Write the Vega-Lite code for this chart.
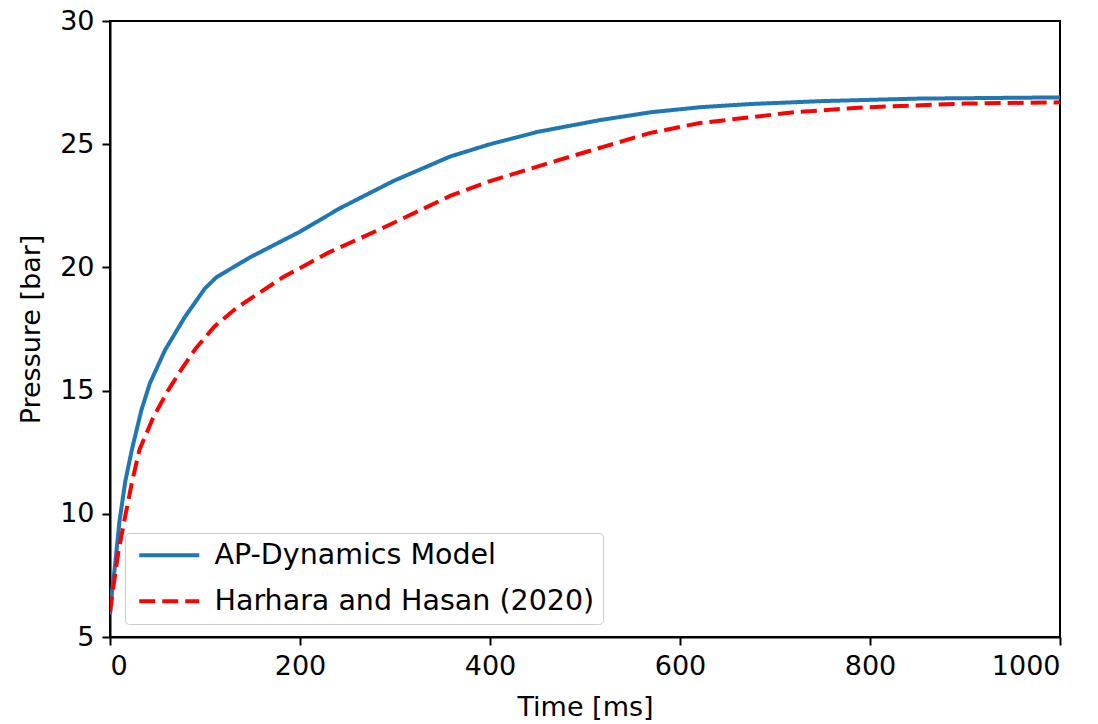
{
  "$schema": "https://vega.github.io/schema/vega-lite/v6.json",
  "autosize": "none",
  "width": 950,
  "height": 616,
  "padding": {"left": 110, "top": 21, "right": 38, "bottom": 87},
  "background": "white",
  "config": {
    "view": {"stroke": "black", "strokeWidth": 2},
    "font": "DejaVu Sans",
    "axis": {
      "domainColor": "black", "domainWidth": 2, "tickColor": "black", "tickWidth": 2, "tickSize": 8,
      "labelFont": "DejaVu Sans", "labelFontSize": 27, "labelColor": "black", "labelPadding": 8,
      "titleFont": "DejaVu Sans", "titleFontSize": 27, "titleFontWeight": "normal", "titleColor": "black",
      "grid": false
    }
  },
  "data": {"values": [
    {"series": "AP-Dynamics Model", "t": 0, "p": 5.9},
    {"series": "AP-Dynamics Model", "t": 2, "p": 6.8},
    {"series": "AP-Dynamics Model", "t": 5, "p": 7.8},
    {"series": "AP-Dynamics Model", "t": 10, "p": 9.7},
    {"series": "AP-Dynamics Model", "t": 16, "p": 11.3},
    {"series": "AP-Dynamics Model", "t": 23, "p": 12.6},
    {"series": "AP-Dynamics Model", "t": 33, "p": 14.2},
    {"series": "AP-Dynamics Model", "t": 42, "p": 15.3},
    {"series": "AP-Dynamics Model", "t": 58, "p": 16.65},
    {"series": "AP-Dynamics Model", "t": 79, "p": 18.0},
    {"series": "AP-Dynamics Model", "t": 100, "p": 19.15},
    {"series": "AP-Dynamics Model", "t": 112, "p": 19.6},
    {"series": "AP-Dynamics Model", "t": 147, "p": 20.4},
    {"series": "AP-Dynamics Model", "t": 200, "p": 21.45},
    {"series": "AP-Dynamics Model", "t": 242, "p": 22.4},
    {"series": "AP-Dynamics Model", "t": 298, "p": 23.5},
    {"series": "AP-Dynamics Model", "t": 358, "p": 24.5},
    {"series": "AP-Dynamics Model", "t": 400, "p": 25.0},
    {"series": "AP-Dynamics Model", "t": 450, "p": 25.5},
    {"series": "AP-Dynamics Model", "t": 516, "p": 25.98},
    {"series": "AP-Dynamics Model", "t": 570, "p": 26.3},
    {"series": "AP-Dynamics Model", "t": 621, "p": 26.5},
    {"series": "AP-Dynamics Model", "t": 674, "p": 26.63},
    {"series": "AP-Dynamics Model", "t": 750, "p": 26.75},
    {"series": "AP-Dynamics Model", "t": 850, "p": 26.85},
    {"series": "AP-Dynamics Model", "t": 1000, "p": 26.9},
    {"series": "Harhara and Hasan (2020)", "t": 0, "p": 6.0},
    {"series": "Harhara and Hasan (2020)", "t": 2, "p": 6.6},
    {"series": "Harhara and Hasan (2020)", "t": 9, "p": 8.5},
    {"series": "Harhara and Hasan (2020)", "t": 16, "p": 9.9},
    {"series": "Harhara and Hasan (2020)", "t": 23, "p": 11.25},
    {"series": "Harhara and Hasan (2020)", "t": 31, "p": 12.6},
    {"series": "Harhara and Hasan (2020)", "t": 46, "p": 13.95},
    {"series": "Harhara and Hasan (2020)", "t": 61, "p": 15.0},
    {"series": "Harhara and Hasan (2020)", "t": 75, "p": 15.85},
    {"series": "Harhara and Hasan (2020)", "t": 90, "p": 16.7},
    {"series": "Harhara and Hasan (2020)", "t": 110, "p": 17.6},
    {"series": "Harhara and Hasan (2020)", "t": 133, "p": 18.35},
    {"series": "Harhara and Hasan (2020)", "t": 182, "p": 19.6},
    {"series": "Harhara and Hasan (2020)", "t": 230, "p": 20.6},
    {"series": "Harhara and Hasan (2020)", "t": 287, "p": 21.6},
    {"series": "Harhara and Hasan (2020)", "t": 358, "p": 22.9},
    {"series": "Harhara and Hasan (2020)", "t": 400, "p": 23.5},
    {"series": "Harhara and Hasan (2020)", "t": 463, "p": 24.25},
    {"series": "Harhara and Hasan (2020)", "t": 520, "p": 24.9},
    {"series": "Harhara and Hasan (2020)", "t": 568, "p": 25.45},
    {"series": "Harhara and Hasan (2020)", "t": 621, "p": 25.86},
    {"series": "Harhara and Hasan (2020)", "t": 667, "p": 26.06},
    {"series": "Harhara and Hasan (2020)", "t": 720, "p": 26.3},
    {"series": "Harhara and Hasan (2020)", "t": 797, "p": 26.5},
    {"series": "Harhara and Hasan (2020)", "t": 900, "p": 26.65},
    {"series": "Harhara and Hasan (2020)", "t": 1000, "p": 26.7}
  ]},
  "mark": {"type": "line", "strokeWidth": 4, "clip": true},
  "encoding": {
    "x": {"field": "t", "type": "quantitative", "title": "Time [ms]",
          "scale": {"domain": [0, 1000], "nice": false, "zero": false},
          "axis": {"values": [0, 200, 400, 600, 800, 1000], "format": "d", "titlePadding": 15}},
    "y": {"field": "p", "type": "quantitative", "title": "Pressure [bar]",
          "scale": {"domain": [5, 30], "nice": false, "zero": false},
          "axis": {"values": [5, 10, 15, 20, 25, 30], "format": "d", "titlePadding": 14}},
    "color": {"field": "series", "type": "nominal", "title": null,
              "scale": {"domain": ["AP-Dynamics Model", "Harhara and Hasan (2020)"], "range": ["#1f77b4", "#ff0000"]},
              "legend": {"orient": "none", "legendX": 15, "legendY": 512, "symbolType": "M-0.8,0H5.2", "symbolSize": 400,
                         "symbolStrokeWidth": 4, "labelFontSize": 28.5, "labelFont": "DejaVu Sans", "labelColor": "black",
                         "labelOffset": 53, "rowPadding": 17, "padding": 8, "strokeColor": "#cccccc", "fillColor": "white",
                         "cornerRadius": 4, "labelLimit": 500}},
    "strokeDash": {"field": "series", "type": "nominal", "title": null,
              "scale": {"domain": ["AP-Dynamics Model", "Harhara and Hasan (2020)"], "range": [[1, 0], [16, 7]]},
              "legend": {"orient": "none", "legendX": 15, "legendY": 512, "symbolType": "M-0.8,0H5.2", "symbolSize": 400,
                         "symbolStrokeWidth": 4, "labelFontSize": 28.5, "labelFont": "DejaVu Sans", "labelColor": "black",
                         "labelOffset": 53, "rowPadding": 17, "padding": 8, "strokeColor": "#cccccc", "fillColor": "white",
                         "cornerRadius": 4, "labelLimit": 500}}
  }
}
